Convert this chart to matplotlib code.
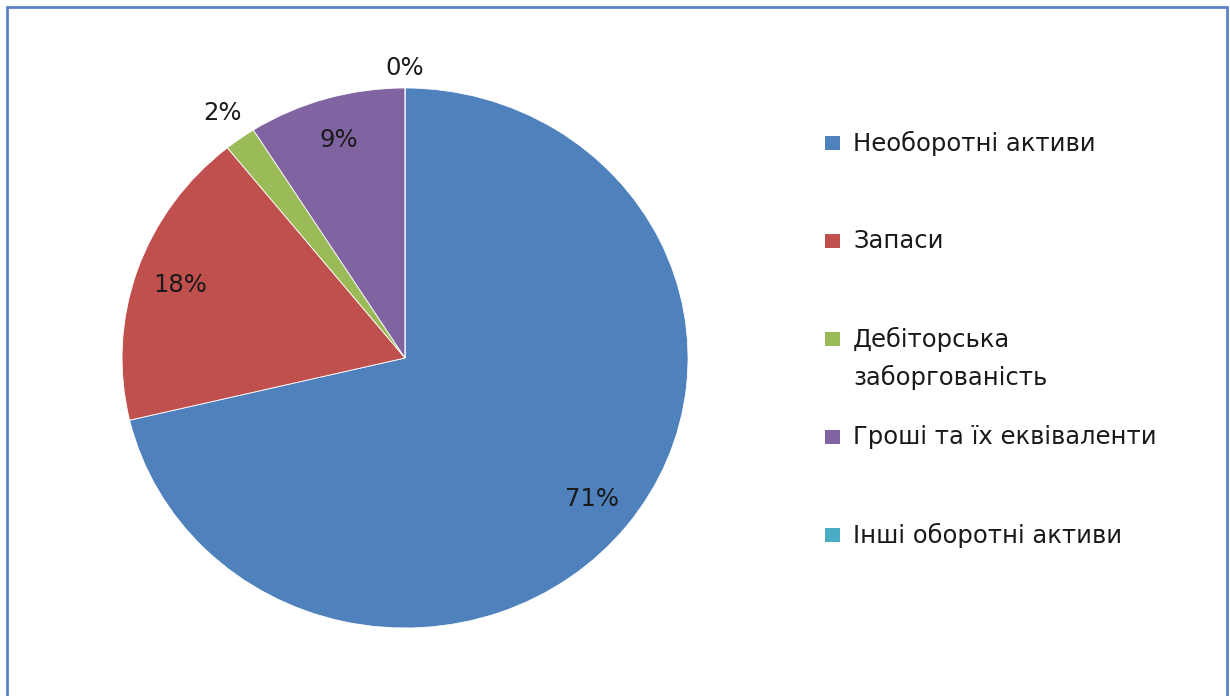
import matplotlib.pyplot as plt
from matplotlib.patches import Rectangle
import numpy as np

# asset structure (shares, %)
labels = ['Необоротні активи', 'Запаси', 'Дебіторська\nзаборгованість',
          'Гроші та їх еквіваленти', 'Інші оборотні активи']
values = [71.3, 17.9, 1.8, 9.0, 0.0]
colors = ['#4F81BD', '#C0504D', '#9BBB59', '#8064A2', '#4BACC6']

plt.rcParams['font.family'] = ['DejaVu Sans']
FS = 17.5
TXT = '#1A1A1A'

W, H = 1230, 696
fig = plt.figure(figsize=(W / 100, H / 100), dpi=100)

# outer frame
fig.patches.append(Rectangle((7 / W, -0.01), 1220 / W, 1 - 7 / H + 0.01,
                             transform=fig.transFigure, fill=False,
                             edgecolor='#5B83C4', linewidth=2))

ax = fig.add_axes([0.0992, 0.0977, 0.4602, 0.7759])
wedges, _ = ax.pie(values, colors=colors, startangle=90, counterclock=False,
                   radius=1, wedgeprops=dict(edgecolor='white', linewidth=0.6))
ax.set_aspect('auto')
ax.set_xlim(-1, 1)
ax.set_ylim(-1, 1)

for w, v in zip(wedges, values):
    ang = np.deg2rad((w.theta1 + w.theta2) / 2)
    c, s = np.cos(ang), np.sin(ang)
    txt = '%d%%' % round(v)
    if v > 5:
        ax.text(0.84 * c, 0.84 * s, txt, ha='center', va='center',
                fontsize=FS, color=TXT)
    else:
        # outside label: fixed gap from the rim to the text box
        off = 10 + abs(c) * 22 + abs(s) * 10
        ax.annotate(txt, (c, s), xytext=(off * c, off * s), textcoords='offset pixels',
                    ha='center', va='center', fontsize=FS, color=TXT,
                    annotation_clip=False)

# legend
rows_y = [143, 241, 339, 437, 535]
for lab, col, y in zip(labels, colors, rows_y):
    fig.patches.append(Rectangle((825 / W, 1 - (y + 7) / H), 15 / W, 14 / H,
                                 transform=fig.transFigure, facecolor=col,
                                 edgecolor='none'))
    for k, line in enumerate(lab.split('\n')):
        fig.text(853 / W, 1 - (y + 38 * k) / H, line, ha='left', va='center',
                 fontsize=FS, color=TXT)

fig.savefig('out.png', dpi=100)
